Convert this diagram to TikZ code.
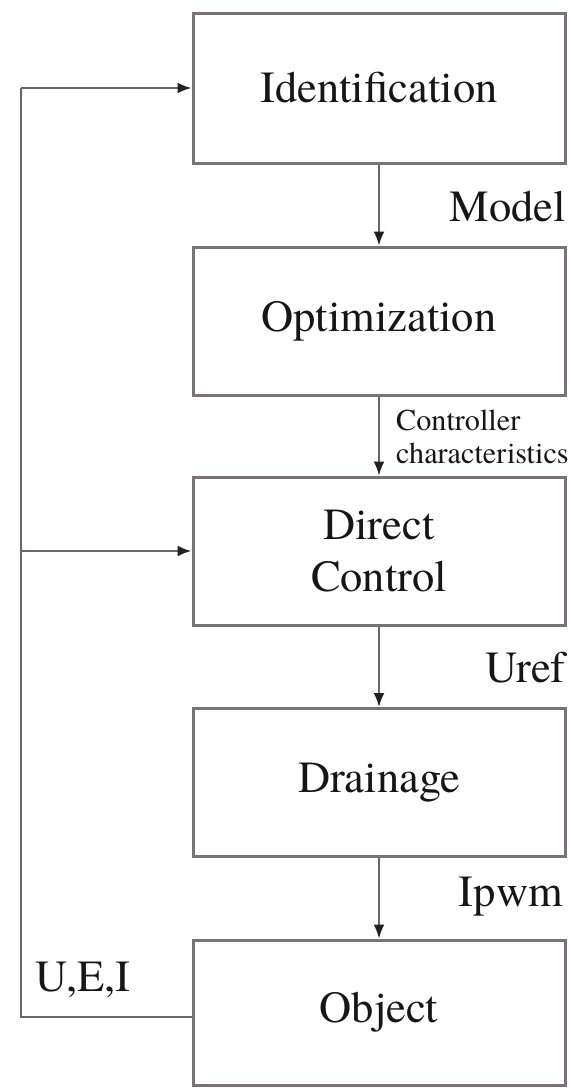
\documentclass[tikz,border=0pt]{standalone}
\usepackage{fontspec}
\setmainfont{texgyretermes-regular.otf}
\usetikzlibrary{arrows.meta}
\definecolor{boxgray}{HTML}{7A7279}
\definecolor{linegray}{HTML}{6A646C}
\definecolor{tipcol}{HTML}{222022}
\definecolor{txt}{HTML}{161616}
\begin{document}
\begin{tikzpicture}[x=1pt,y=-1pt,
  block/.style={draw=boxgray, line width=3pt, minimum width=372pt, minimum height=148pt,
    inner sep=0pt, align=center, text=txt, font=\fontsize{44.5}{52}\selectfont},
  flow/.style={draw=linegray, line width=2pt, -{Latex[length=14pt,width=11pt,color=tipcol]}},
  wire/.style={draw=linegray, line width=2.6pt},
  lbl/.style={inner sep=0pt, text=txt, font=\fontsize{44.5}{52}\selectfont},
  smalllbl/.style={inner sep=0pt, text=txt, align=left, font=\fontsize{30.2}{33}\selectfont}]
\useasboundingbox (0,0) rectangle (570,1088);
\fill[white] (0,0) rectangle (570,1088);

\node[block, minimum height=150pt] (b1) at (379,88) {Identification};
\node[block] (b2) at (379,321) {Optimization};
\node[block] (b3) at (379,551) {Direct\\Control};
\node[block] (b4) at (379,782.5) {Drainage};
\node[block, minimum height=145pt] (b5) at (379,1012.5) {Object};

\node[lbl, anchor=east] (lmodel) at (566,207) {Model};
\node[smalllbl, anchor=west] (lctrl) at (396,437) {Controller\\characteristics};
\node[lbl, anchor=east] (luref) at (566,668) {Uref};
\node[lbl, anchor=east] (lipwm) at (563,897) {Ipwm};
\node[lbl] (luei) at (83,980) {U,E,I};

\draw[flow] (b1.south) -- (b2.north);
\draw[flow] (b2.south) -- (b3.north);
\draw[flow] (b3.south) -- (b4.north);
\draw[flow] (b4.south) -- (b5.north);

\coordinate (fb) at (21,1017);
\draw[wire] ([yshift=-4.5pt]b5.west) -- (fb) -- (fb |- b1.west);
\draw[flow, line width=2.6pt] (fb |- b1.west) -- (b1.west);
\draw[flow, line width=2.6pt] (fb |- b3.west) -- (b3.west);
\end{tikzpicture}
\end{document}
